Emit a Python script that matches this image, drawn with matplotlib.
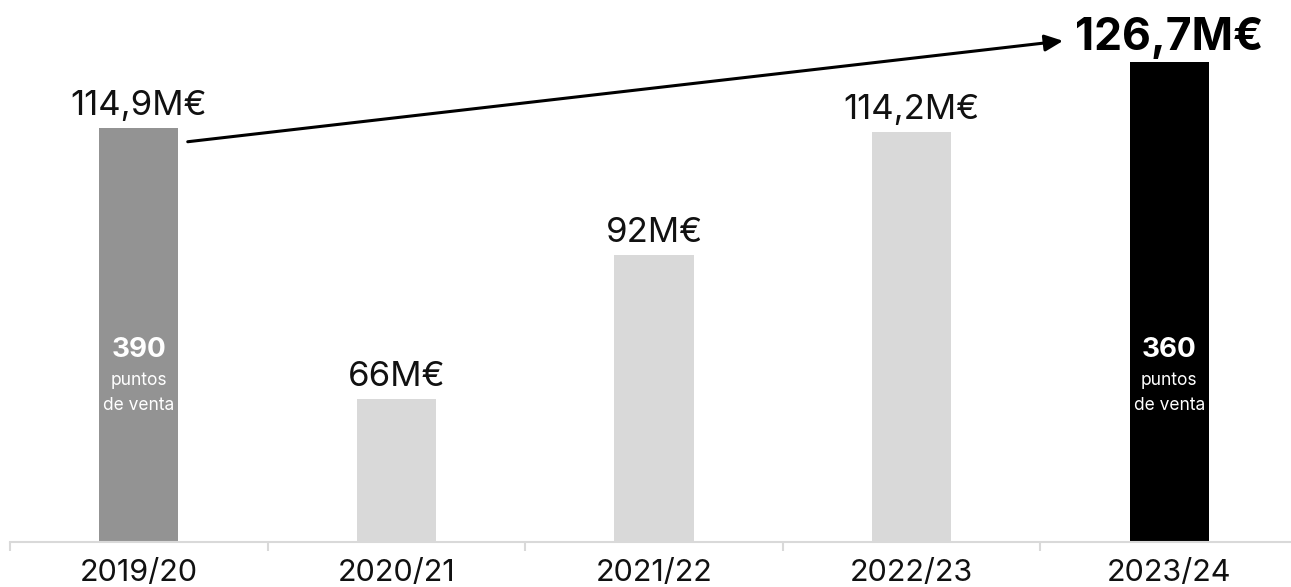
import matplotlib
matplotlib.use("Agg")
import matplotlib.pyplot as plt
from matplotlib.ticker import FixedLocator

plt.rcParams['font.family'] = ['Inter', 'DejaVu Sans']

categories = ["2019/20", "2020/21", "2021/22", "2022/23", "2023/24"]
values = [114.9, 66, 92, 114.2, 126.7]
value_labels = ["114,9M€", "66M€", "92M€", "114,2M€", "126,7M€"]
bar_colors = ["#939393", "#d9d9d9", "#d9d9d9", "#d9d9d9", "#000000"]
points_of_sale = {0: "390", 4: "360"}
pos_caption = ["puntos", "de venta"]

fig = plt.figure(figsize=(12.91, 5.87), dpi=100)
ax = fig.add_axes([10 / 1291, 45 / 587, 1288 / 1291, 542 / 587])

x = list(range(len(categories)))
ax.bar(x, values, width=0.307, color=bar_colors, zorder=2)

ax.set_xlim(-0.5, len(categories) - 0.5)
ax.set_ylim(40.19, 137.97)

for s in ["top", "right", "left"]:
    ax.spines[s].set_visible(False)
ax.spines["bottom"].set_color("#d9d9d9")
ax.spines["bottom"].set_linewidth(1.5)
ax.set_yticks([])
ax.set_xticks(x)
ax.set_xticklabels(categories, fontsize=22, color="#111111")
ax.tick_params(axis="x", which="major", length=0, pad=12)
ax.xaxis.set_minor_locator(FixedLocator([i - 0.5 for i in range(len(categories) + 1)]))
ax.tick_params(axis="x", which="minor", length=6.5, width=1.5, color="#d9d9d9")

last = len(values) - 1
for i, (v, lab) in enumerate(zip(values, value_labels)):
    if i == last:
        ax.annotate(lab, (i, v), xytext=(0, 9), textcoords="offset points",
                    ha="center", va="baseline", fontsize=32, fontweight="bold",
                    color="#000000")
    else:
        ax.annotate(lab, (i, v), xytext=(0, 9), textcoords="offset points",
                    ha="center", va="baseline", fontsize=25, color="#111111")

# baseline of the axes is at pixel 542; offsets in points (1pt = 100/72 px)
px = 72 / 100
for i, n in points_of_sale.items():
    base = (i, ax.get_ylim()[0])
    ax.annotate(n, base, xytext=(0, (542 - 357) * px), textcoords="offset points",
                ha="center", va="baseline", fontsize=20, fontweight="bold",
                color="white")
    ax.annotate(pos_caption[0], base, xytext=(0, (542 - 385) * px), textcoords="offset points",
                ha="center", va="baseline", fontsize=12.5, color="white")
    ax.annotate(pos_caption[1], base, xytext=(0, (542 - 410) * px), textcoords="offset points",
                ha="center", va="baseline", fontsize=12.5, color="white")

# growth arrow from first bar to the last label
start = (0 + 0.19, values[0] - 2.5)
end = (3.588, 130.6)
ax.annotate("", xy=end, xytext=start,
            arrowprops=dict(arrowstyle="-|>,head_length=1.1,head_width=0.5",
                            lw=2.2, color="black", shrinkA=0, shrinkB=0),
            zorder=3)

fig.savefig("out.png", dpi=100)
